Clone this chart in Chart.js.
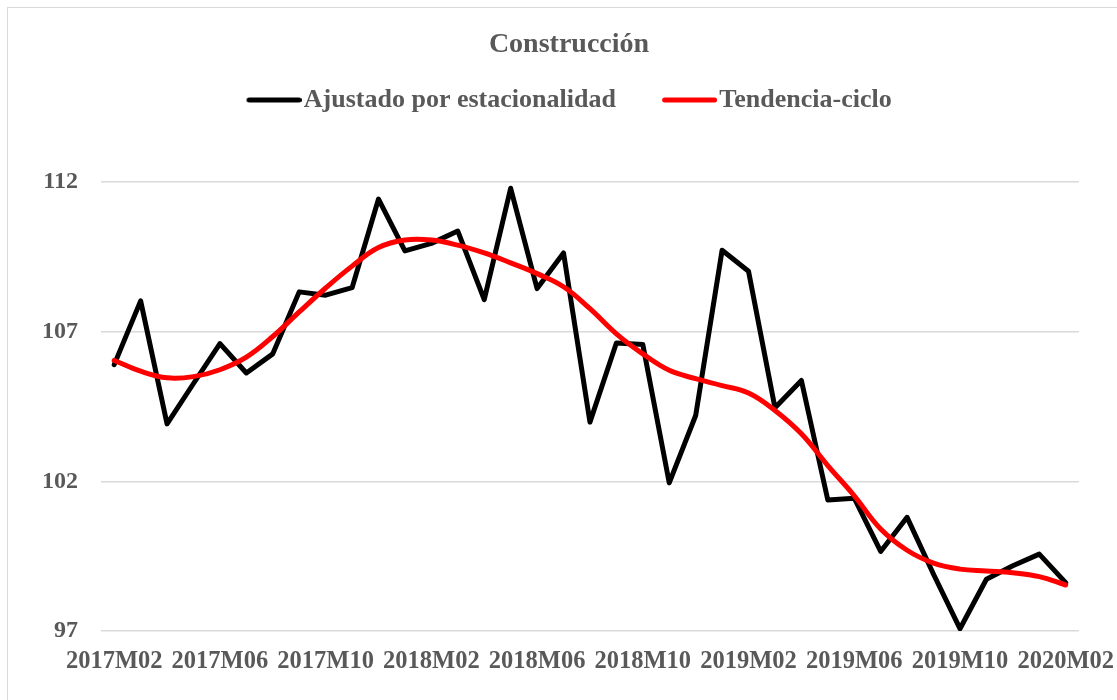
<!DOCTYPE html>
<html>
<head>
<meta charset="utf-8">
<script src="https://cdn.jsdelivr.net/npm/chart.js@4/dist/chart.umd.min.js"></script>
<style>
  html, body { margin: 0; padding: 0; background: #fff; overflow: hidden; }
  #frame { position: absolute; left: 7px; top: 7px; width: 1300px; height: 900px; border: 1.5px solid #d9d9d9; }
  #wrap { position: absolute; left: 0; top: 0; width: 1117px; height: 700px; }
</style>
</head>
<body>
<div id="frame"></div>
<div id="wrap"><canvas id="chart" width="1117" height="700"></canvas></div>
<script>
    const months = [
        '2017M02', '2017M03', '2017M04', '2017M05', '2017M06', '2017M07', '2017M08', '2017M09',
        '2017M10', '2017M11', '2017M12', '2018M01', '2018M02', '2018M03', '2018M04', '2018M05',
        '2018M06', '2018M07', '2018M08', '2018M09', '2018M10', '2018M11', '2018M12', '2019M01',
        '2019M02', '2019M03', '2019M04', '2019M05', '2019M06', '2019M07', '2019M08', '2019M09',
        '2019M10', '2019M11', '2019M12', '2020M01', '2020M02'
    ];
    const shownMonths = ['2017M02', '2017M06', '2017M10', '2018M02', '2018M06', '2018M10', '2019M02', '2019M06', '2019M10', '2020M02'];

    const ajustado = [105.9, 108.03, 103.92, 105.27, 106.6, 105.62, 106.26, 108.33, 108.22, 108.47,
        111.43, 109.7, 109.95, 110.36, 108.07, 111.79, 108.44, 109.63, 103.98, 106.62,
        106.57, 101.95, 104.2, 109.72, 109.02, 104.46, 105.37, 101.38, 101.44, 99.66,
        100.8, 98.9, 97.08, 98.73, 99.18, 99.57, 98.62];
    const tendencia = [106.04, 105.68, 105.46, 105.5, 105.73, 106.15, 106.84, 107.66, 108.46, 109.19,
        109.81, 110.06, 110.06, 109.89, 109.63, 109.3, 108.94, 108.5, 107.77, 106.93,
        106.26, 105.71, 105.43, 105.2, 104.95, 104.37, 103.59, 102.53, 101.52, 100.41,
        99.7, 99.27, 99.07, 99.01, 98.95, 98.82, 98.54];

    const yTicks = [97, 102, 107, 112];
    const seriesNames = ['Ajustado por estacionalidad', 'Tendencia-ciclo'];
    const seriesColors = ['#000000', '#ff0000'];
    const textColor = '#595959';
    const fontFamily = '"Liberation Serif", "Times New Roman", serif';

    // legend line sample: 55px visible, almost touching the text like Excel does
    function legendSwatch(color) {
        const c = document.createElement('canvas');
        c.width = 66;
        c.height = 8;
        const g = c.getContext('2d');
        g.strokeStyle = color;
        g.lineWidth = 5;
        g.lineCap = 'round';
        g.beginPath();
        g.moveTo(13.5, 4);
        g.lineTo(63.5, 4);
        g.stroke();
        return c;
    }

    // extra room between legend and plot area
    const spacer = {
        id: 'spacer',
        beforeInit(chart) {
            const fit = chart.legend.fit;
            chart.legend.fit = function () {
                fit.bind(chart.legend)();
                this.height += 59;
            };
        }
    };

    const ctx = document.getElementById('chart').getContext('2d');
    new Chart(ctx, {
        type: 'line',
        data: {
            labels: months,
            datasets: [{
                label: seriesNames[0],
                data: ajustado,
                borderColor: seriesColors[0],
                backgroundColor: seriesColors[0],
                borderWidth: 5,
                tension: 0,
                pointRadius: 0,
                borderJoinStyle: 'round',
                borderCapStyle: 'round',
                order: 2
            }, {
                label: seriesNames[1],
                data: tendencia,
                borderColor: seriesColors[1],
                backgroundColor: seriesColors[1],
                borderWidth: 5,
                tension: 0.4,
                pointRadius: 0,
                borderJoinStyle: 'round',
                borderCapStyle: 'round',
                order: 1
            }]
        },
        options: {
            responsive: false,
            animation: false,
            layout: { padding: { left: 19, right: -2, top: 0, bottom: 21 } },
            scales: {
                x: {
                    offset: true,
                    grid: { display: false, tickLength: 13.5 },
                    border: { display: false },
                    ticks: {
                        autoSkip: false,
                        maxRotation: 0,
                        minRotation: 0,
                        padding: 2.5,
                        color: textColor,
                        font: { family: fontFamily, size: 24.5, weight: 'bold' },
                        callback: function (value, index) {
                            const m = months[index];
                            return shownMonths.includes(m) ? m : '';
                        }
                    }
                },
                y: {
                    min: yTicks[0],
                    max: yTicks[yTicks.length - 1],
                    afterBuildTicks: (scale) => { scale.ticks = yTicks.map(v => ({ value: v })); },
                    grid: { color: '#d9d9d9', lineWidth: 1.5, drawTicks: false },
                    border: { display: false },
                    ticks: {
                        padding: 23,
                        color: textColor,
                        font: { family: fontFamily, size: 24, weight: 'bold' }
                    }
                },
                y2: {
                    position: 'right',
                    grid: { display: false },
                    border: { display: false },
                    ticks: { display: false },
                    afterFit: (scale) => { scale.width = 39; }
                }
            },
            plugins: {
                title: {
                    display: true,
                    text: 'Construcción',
                    color: textColor,
                    font: { family: fontFamily, size: 28, weight: 'bold' },
                    padding: { top: 28.2, bottom: -20.8 }
                },
                legend: {
                    display: true,
                    labels: {
                        usePointStyle: true,
                        pointStyleWidth: 44.5,
                        padding: 46,
                        color: textColor,
                        font: { family: fontFamily, size: 26, weight: 'bold' },
                        generateLabels: (chart) => chart.data.datasets.map((ds, i) => ({
                            text: ds.label,
                            pointStyle: legendSwatch(ds.borderColor),
                            fillStyle: ds.borderColor,
                            strokeStyle: ds.borderColor,
                            lineWidth: 0,
                            fontColor: textColor,
                            datasetIndex: i
                        }))
                    }
                },
                tooltip: { enabled: false }
            }
        },
        plugins: [spacer]
    });
</script>
</body>
</html>
